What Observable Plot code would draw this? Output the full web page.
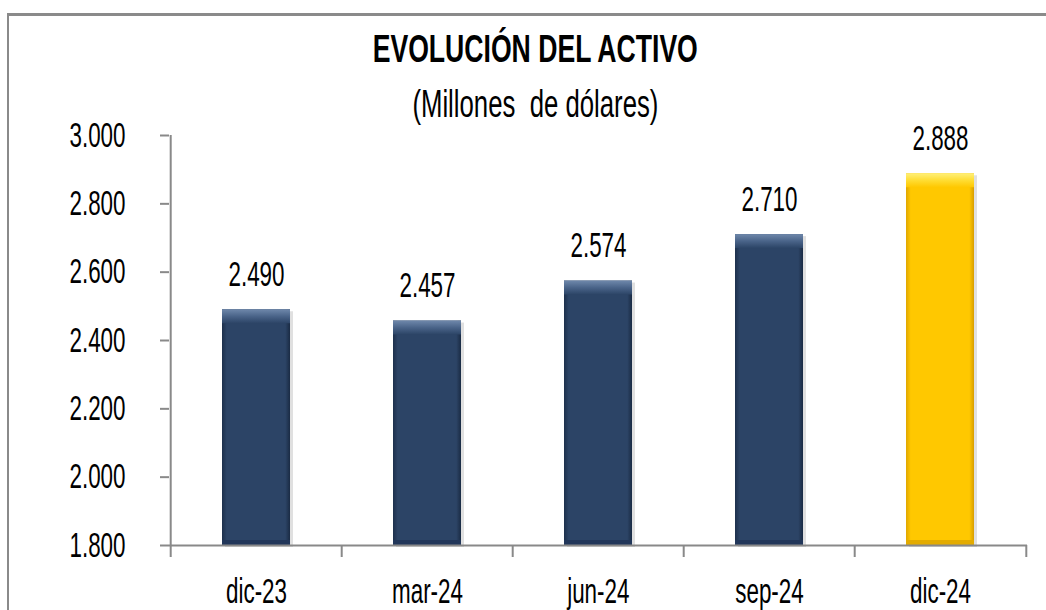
<!DOCTYPE html>
<html>
<head>
<meta charset="utf-8">
<script src="https://cdn.jsdelivr.net/npm/d3@7"></script>
<script src="https://cdn.jsdelivr.net/npm/@observablehq/plot@0.6"></script>
<style>
  html, body { margin: 0; padding: 0; background: #fff; }
  body { width: 1046px; height: 610px; overflow: hidden; position: relative; font-family: "Liberation Sans", Arial, sans-serif; }
  #chart { position: absolute; left: 0; top: 0; }
  .ttl { position: absolute; left: 0; width: 1070px; text-align: center; line-height: 1; color: #000; white-space: pre; }
  .ttl span { display: inline-block; }
  #title { top: 30px; font-size: 38px; font-weight: bold; }
  #title span { transform: scaleX(0.70); }
  #subtitle { top: 84px; font-size: 39px; }
  #subtitle span { transform: scaleX(0.66); }
  #border { position: absolute; left: 7px; top: 13px; width: 1100px; height: 700px; border-top: 3px solid #8a8a8a; border-left: 2px solid #8a8a8a; pointer-events: none; }
</style>
</head>
<body>
<div id="chart"></div>
<div id="title" class="ttl"><span>EVOLUCIÓN DEL ACTIVO</span></div>
<div id="subtitle" class="ttl"><span>(Millones  de dólares)</span></div>
<div id="border"></div>
<script>
const categories = ["dic-23", "mar-24", "jun-24", "sep-24", "dic-24"];
const values = [2490, 2457, 2574, 2710, 2888];
const valueLabels = ["2.490", "2.457", "2.574", "2.710", "2.888"];
const highlighted = [false, false, false, false, true];
const yTicks = [1800, 2000, 2200, 2400, 2600, 2800, 3000];
const yTickLabels = ["1.800", "2.000", "2.200", "2.400", "2.600", "2.800", "3.000"];

const data = categories.map((c, i) => ({cat: c, value: values[i], label: valueLabels[i], hi: highlighted[i]}));
const blue = data.filter(d => !d.hi);
const gold = data.filter(d => d.hi);

const W = 1046, H = 610, mL = 169, mR = 19, mT = 135, mB = 65;
const step = (W - mL - mR) / categories.length;
const axisColor = "#898989";
const yMin = yTicks[0], yMax = yTicks[yTicks.length - 1];

function defs() {
  const g = d3.create("svg:g");
  const d = g.append("defs");
  function grad(id, x2, y2, stops) {
    const lg = d.append("linearGradient").attr("id", id)
      .attr("x1", 0).attr("y1", 0).attr("x2", x2).attr("y2", y2);
    stops.forEach(([o, c]) => lg.append("stop").attr("offset", o).attr("stop-color", c));
  }
  grad("gB", 1, 0, [[0, "#1d304c"], [0.07, "#2c4466"], [0.93, "#2c4466"], [1, "#1a2b44"]]);
  grad("gBtop", 0, 1, [[0, "#6f88ab"], [0.5, "#4a6489"], [1, "#2c4466"]]);
  grad("gY", 1, 0, [[0, "#e0a600"], [0.07, "#ffc800"], [0.93, "#ffc800"], [1, "#d89e00"]]);
  grad("gYtop", 0, 1, [[0, "#fff07a"], [0.5, "#ffdd33"], [1, "#ffc800"]]);
  return g.node();
}

const chart = Plot.plot({
  width: W, height: H,
  marginLeft: mL, marginRight: mR, marginTop: mT, marginBottom: mB,
  style: {fontFamily: "'Liberation Sans', Arial, sans-serif", background: "transparent", color: "#000"},
  x: {type: "band", domain: categories, paddingInner: 0.6, paddingOuter: 0.3},
  y: {domain: [yMin, yMax]},
  marks: [
    defs,
    Plot.barY(data, {x: "cat", y1: yMin, y2: "value", fill: "#000", fillOpacity: 0.12, dx: 3, dy: 2}),
    Plot.barY(blue, {x: "cat", y1: yMin, y2: "value", fill: "url(#gB)"}),
    Plot.barY(gold, {x: "cat", y1: yMin, y2: "value", fill: "url(#gY)"}),
    Plot.barY(blue, {x: "cat", y1: "value", y2: "value", insetBottom: -14, fill: "url(#gBtop)"}),
    Plot.barY(gold, {x: "cat", y1: "value", y2: "value", insetBottom: -14, fill: "url(#gYtop)"}),
    Plot.barY(blue, {x: "cat", y1: yMin, y2: yMin, insetTop: -5, fill: "#22375a"}),
    Plot.barY(gold, {x: "cat", y1: yMin, y2: yMin, insetTop: -5, fill: "#e3ab00"}),
    Plot.ruleY([yMin], {stroke: axisColor, strokeWidth: 2}),
    Plot.ruleX([categories[0]], {x: d => d, dx: -step / 2, y1: yMin, y2: yMax, stroke: axisColor, strokeWidth: 2}),
    Plot.ruleX(categories, {x: d => d, dx: -step / 2, y1: yMin, y2: yMin, insetBottom: -12, stroke: axisColor, strokeWidth: 2}),
    Plot.ruleX([categories[categories.length - 1]], {x: d => d, dx: step / 2, y1: yMin, y2: yMin, insetBottom: -12, stroke: axisColor, strokeWidth: 2}),
    Plot.axisY({ticks: yTicks, tickFormat: d => yTickLabels[yTicks.indexOf(d)], tickSize: 9, tickPadding: 35, fontSize: 35, stroke: axisColor, strokeWidth: 2, fill: "#000", label: null}),
    Plot.axisX({tickSize: 0, tickPadding: 33, fontSize: 35, fill: "#000", label: null}),
    Plot.text(data, {x: "cat", y: "value", text: "label", lineAnchor: "bottom", dy: -24, fontSize: 35, fill: "#000"})
  ]
});

document.getElementById("chart").appendChild(chart);

// horizontally condense all text around its anchor (measured after layout)
const SX = 0.64;
chart.querySelectorAll("text").forEach(t => {
  const b = t.getBBox();
  const anchor = t.getAttribute("text-anchor") || (t.closest("[text-anchor]") ? t.closest("[text-anchor]").getAttribute("text-anchor") : "start");
  const ax = anchor === "end" ? b.x + b.width : anchor === "middle" ? b.x + b.width / 2 : b.x;
  const tr = t.getAttribute("transform") || "";
  t.setAttribute("transform", `${tr} translate(${ax},0) scale(${SX},1) translate(${-ax},0)`);
});
</script>
</body>
</html>
